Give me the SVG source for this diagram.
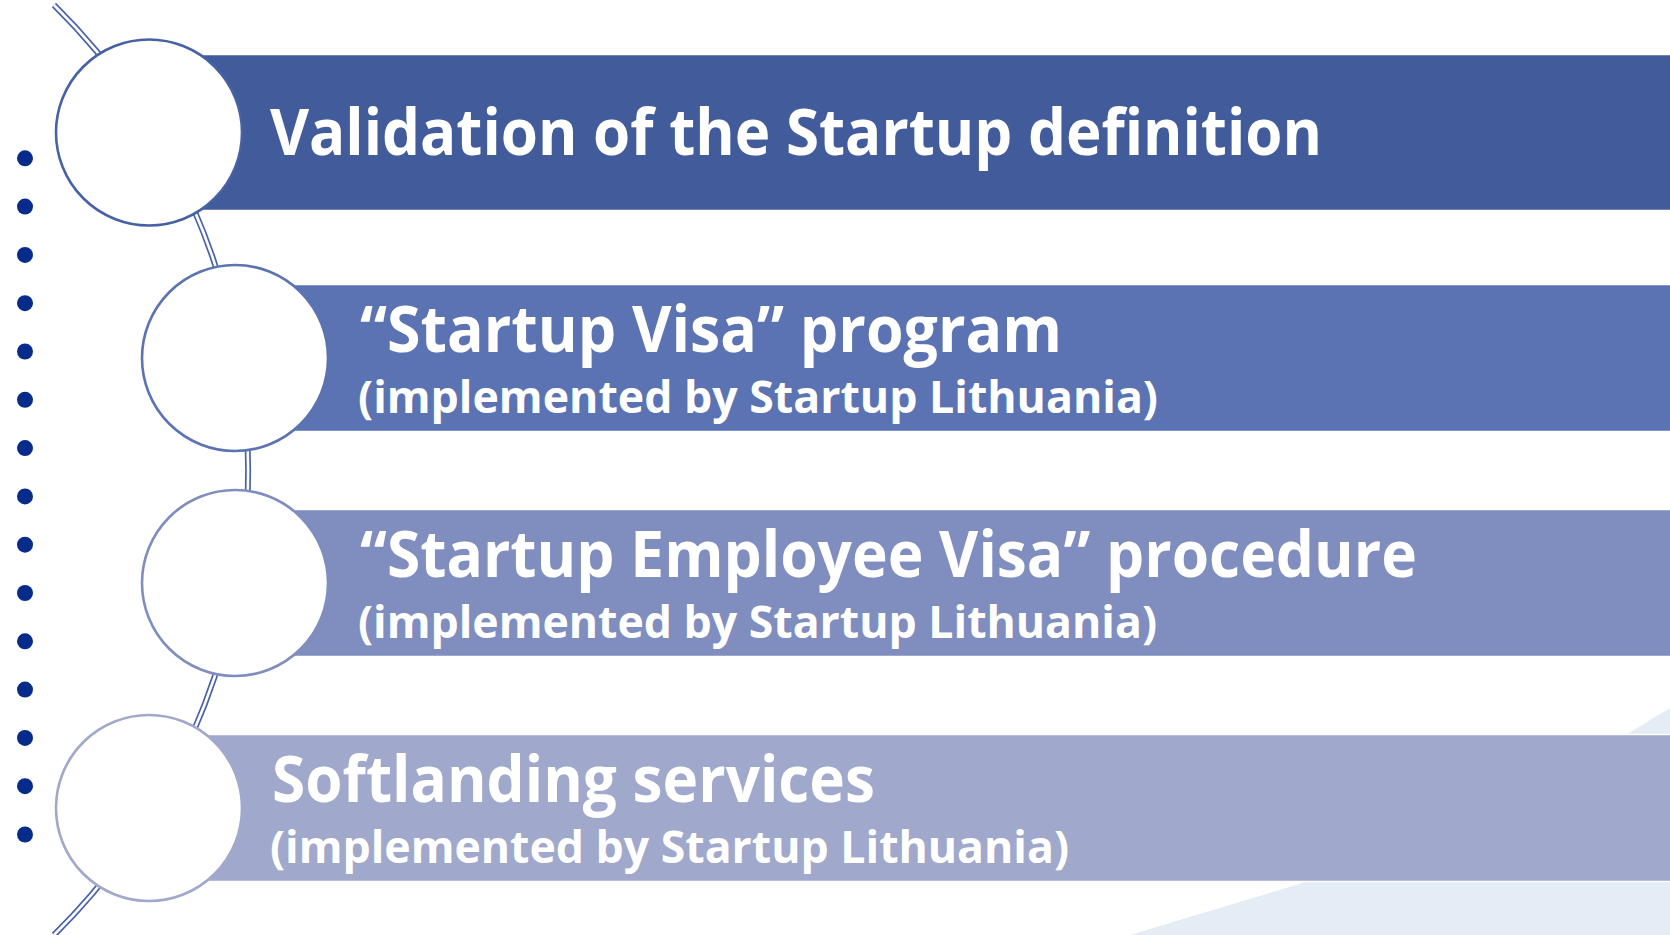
<svg xmlns="http://www.w3.org/2000/svg" width="1670" height="935" viewBox="0 0 1670 935">
  <style>
    .bar { stroke: #ffffff; stroke-width: 1.5; }
    .node-circle { fill: #ffffff; stroke-width: 2.6; }
    .title { font-family: "Open Sans", "Noto Sans", "Liberation Sans", sans-serif; font-weight: 700; font-size: 64px; fill: #ffffff; }
    .sub { font-family: "Open Sans", "Noto Sans", "Liberation Sans", sans-serif; font-weight: 700; font-size: 44px; fill: #ffffff; }
    .dot { fill: #062B8A; }
  </style>
  <rect width="1670" height="935" fill="#ffffff"/>
  <g id="background">
    <path d="M1120,938 L1299,884 L1629,733 L1680,702 L1680,940 Z" fill="#E4ECF6"/>
  </g>
  <g id="connectors">
    <path d="M54,5 A654,654 0 0 1 54,935" fill="none" stroke="#4862A8" stroke-width="6"/>
    <path d="M54,5 A654,654 0 0 1 54,935" fill="none" stroke="#ffffff" stroke-width="2.6"/>
  </g>
  <g id="dots">
    <circle class="dot" cx="25" cy="158.3" r="8"/>
    <circle class="dot" cx="25" cy="206.6" r="8"/>
    <circle class="dot" cx="25" cy="254.9" r="8"/>
    <circle class="dot" cx="25" cy="303.2" r="8"/>
    <circle class="dot" cx="25" cy="351.5" r="8"/>
    <circle class="dot" cx="25" cy="399.8" r="8"/>
    <circle class="dot" cx="25" cy="448.1" r="8"/>
    <circle class="dot" cx="25" cy="496.4" r="8"/>
    <circle class="dot" cx="25" cy="544.7" r="8"/>
    <circle class="dot" cx="25" cy="593.0" r="8"/>
    <circle class="dot" cx="25" cy="641.3" r="8"/>
    <circle class="dot" cx="25" cy="689.6" r="8"/>
    <circle class="dot" cx="25" cy="737.9" r="8"/>
    <circle class="dot" cx="25" cy="786.2" r="8"/>
    <circle class="dot" cx="25" cy="834.5" r="8"/>
  </g>
  <g id="node1">
    <rect class="bar" x="150" y="54.5" width="1530" height="156" fill="#425B9A"/>
    <circle class="node-circle" cx="149" cy="132.5" r="93" stroke="#4761A5"/>
    <text class="title" x="270" y="155" textLength="1052" lengthAdjust="spacingAndGlyphs">Validation of the Startup definition</text>
  </g>
  <g id="node2">
    <rect class="bar" x="235" y="284.5" width="1445" height="147" fill="#5B73B2"/>
    <circle class="node-circle" cx="235" cy="358" r="93" stroke="#5B73B2"/>
    <text class="title" x="360" y="352" textLength="702" lengthAdjust="spacingAndGlyphs">“Startup Visa” program</text>
    <text class="sub" x="358" y="413" textLength="800" lengthAdjust="spacingAndGlyphs">(implemented by Startup Lithuania)</text>
  </g>
  <g id="node3">
    <rect class="bar" x="235" y="509.5" width="1445" height="147" fill="#7F8DBF"/>
    <circle class="node-circle" cx="235" cy="583" r="93" stroke="#7F8DBF"/>
    <text class="title" x="360" y="577" textLength="1057" lengthAdjust="spacingAndGlyphs">“Startup Employee Visa” procedure</text>
    <text class="sub" x="358" y="638" textLength="799" lengthAdjust="spacingAndGlyphs">(implemented by Startup Lithuania)</text>
  </g>
  <g id="node4">
    <rect class="bar" x="150" y="734.5" width="1530" height="147" fill="#A0A8CB"/>
    <circle class="node-circle" cx="149" cy="808" r="93" stroke="#A0A8CB"/>
    <text class="title" x="272" y="802" textLength="603" lengthAdjust="spacingAndGlyphs">Softlanding services</text>
    <text class="sub" x="270" y="863" textLength="799" lengthAdjust="spacingAndGlyphs">(implemented by Startup Lithuania)</text>
  </g>
</svg>
